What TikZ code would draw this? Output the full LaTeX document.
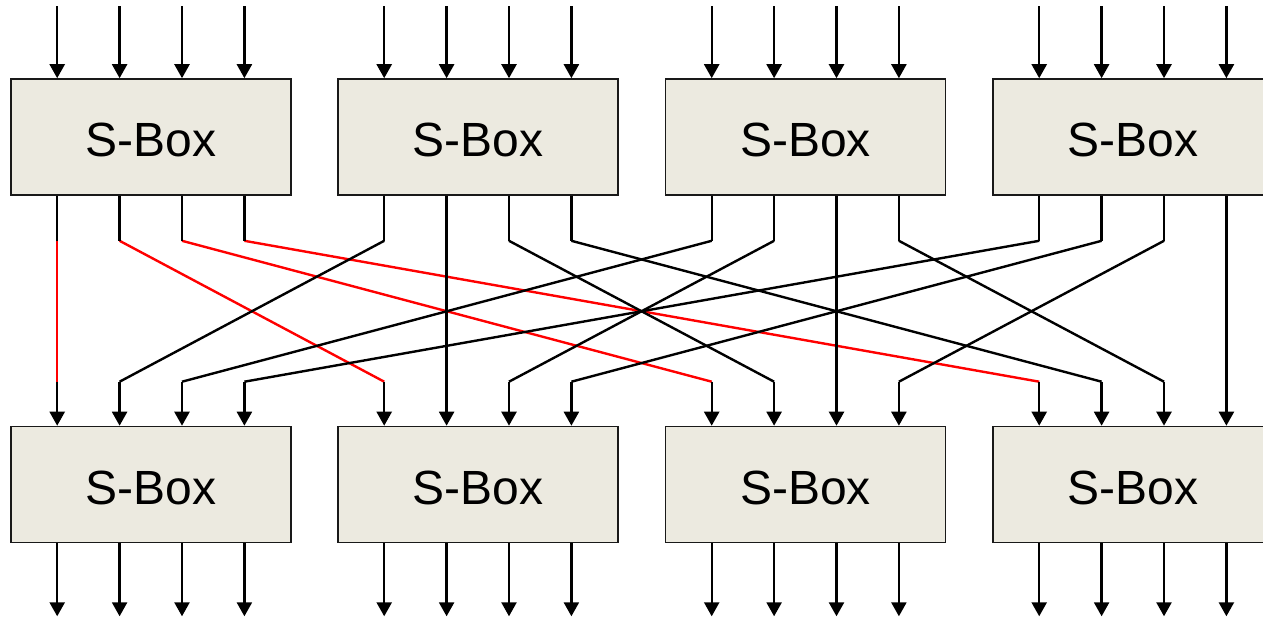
\documentclass[tikz,border=0pt]{standalone}
\usepackage{fontspec}
\setmainfont{Liberation Sans}
\usetikzlibrary{arrows.meta,calc}
\definecolor{boxfill}{RGB}{236,234,224}
\definecolor{wirered}{RGB}{255,0,0}
\tikzset{
  sbox/.style={draw=black!90, line width=1.6pt, fill=boxfill, minimum width=280pt, minimum height=116pt, inner sep=0pt, text height=39.5pt, text depth=0pt, font=\fontsize{48}{50}\selectfont},
  wire/.style={line width=2.4pt, draw=black},
  redwire/.style={line width=2.4pt, draw=wirered},
  arrowwire/.style={line width=2.4pt, draw=black, -{Triangle[width=15pt,length=14pt]}}
}
\begin{document}
\begin{tikzpicture}[x=1pt,y=-1pt]
\path[use as bounding box, clip] (0,0) rectangle (1263,618);
% boxes
\foreach \i/\cx in {1/151,2/478,3/805.5,4/1133}{
  \node[sbox] (t\i) at (\cx,137) {S-Box};
  \node[sbox] (b\i) at (\cx,484.5) {S-Box};
  \foreach \j in {1,...,4}{
    \coordinate (in\i\j) at ($(t\i.north west)+({47+62.4*(\j-1)},-72)$);
    \coordinate (ti\i\j) at ($(t\i.north west)+({47+62.4*(\j-1)},0)$);
    \coordinate (to\i\j) at ($(t\i.south west)+({47+62.4*(\j-1)},0)$);
    \coordinate (ta\i\j) at ($(t\i.south west)+({47+62.4*(\j-1)},45)$);
    \coordinate (bb\i\j) at ($(b\i.north west)+({47+62.4*(\j-1)},-44)$);
    \coordinate (bi\i\j) at ($(b\i.north west)+({47+62.4*(\j-1)},0)$);
    \coordinate (bo\i\j) at ($(b\i.south west)+({47+62.4*(\j-1)},0)$);
    \coordinate (out\i\j) at ($(b\i.south west)+({47+62.4*(\j-1)},73)$);
  }
}
% inputs and outputs
\foreach \i in {1,...,4}{
  \foreach \j in {1,...,4}{
    \draw[arrowwire] (in\i\j) -- (ti\i\j);
    \draw[arrowwire] (bo\i\j) -- (out\i\j);
  }
}
% red diagonals (from first S-Box)
\foreach \j in {1,...,4}{
  \draw[redwire] (ta1\j) -- (bb\j1);
}
% black diagonals
\foreach \i in {2,...,4}{
  \foreach \j in {1,...,4}{
    \draw[wire] (ta\i\j) -- (bb\j\i);
  }
}
% vertical stubs
\foreach \i in {1,...,4}{
  \foreach \j in {1,...,4}{
    \draw[wire] (to\i\j) -- (ta\i\j);
    \draw[arrowwire] (bb\j\i) -- (bi\j\i);
  }
}
\end{tikzpicture}
\end{document}
